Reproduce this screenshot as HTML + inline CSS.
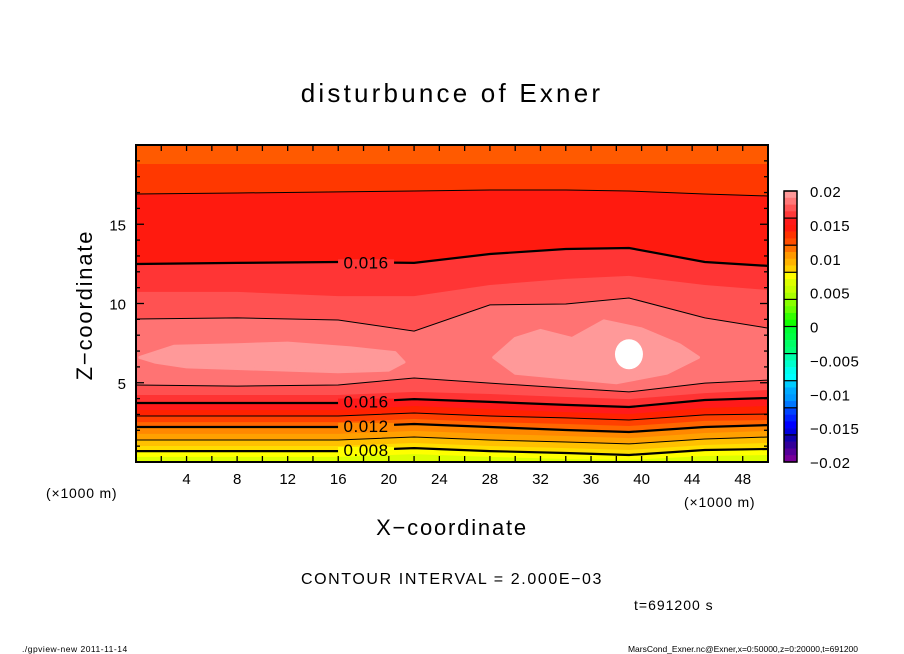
<!DOCTYPE html>
<html><head><meta charset="utf-8"><style>
html,body{margin:0;padding:0;background:#fff;}
svg{display:block;font-family:"Liberation Sans",sans-serif;}
</style></head><body>
<svg id="chart" width="904" height="654" viewBox="0 0 904 654">
<text x="452" y="102" text-anchor="middle" font-size="26" letter-spacing="3.2">disturbunce of Exner</text>
<g id="plot"></g>
<g id="axes"></g>
<g id="cbar"></g>
<text transform="translate(92,305) rotate(-90)" text-anchor="middle" font-size="22" letter-spacing="1.8">Z−coordinate</text>
<text x="452" y="535" text-anchor="middle" font-size="22" letter-spacing="1.8">X−coordinate</text>
<text x="46" y="498" font-size="14" letter-spacing="0.8">(×1000 m)</text>
<text x="684" y="507" font-size="14" letter-spacing="0.8">(×1000 m)</text>
<text x="452" y="584" text-anchor="middle" font-size="16" letter-spacing="1.6">CONTOUR INTERVAL = 2.000E−03</text>
<text x="634" y="610" font-size="14" letter-spacing="1">t=691200 s</text>
<text x="22" y="652" font-size="8.5" letter-spacing="0.5">./gpview-new  2011-11-14</text>
<text x="858" y="652" text-anchor="end" font-size="8.5">MarsCond_Exner.nc@Exner,x=0:50000,z=0:20000,t=691200</text>
</svg>
<script>
const xs = [0, 8, 16, 22, 28, 34, 39, 45, 50];
const boundaryZ = [
 [18.8,18.8,18.8,18.8,18.8,18.8,18.8,18.8,18.8],
 [16.91,16.97,17.04,17.10,17.16,17.16,17.10,16.91,16.78],
 [12.49,12.56,12.62,12.56,13.12,13.44,13.50,12.62,12.37],
 [10.73,10.73,10.47,10.47,11.17,11.55,11.74,11.17,10.85],
 [9.02,9.09,8.96,8.26,9.91,9.97,10.35,9.09,8.45],
 [4.86,4.79,4.86,5.30,4.98,4.67,4.42,4.98,5.17],
 [4.23,4.23,4.23,4.42,4.29,4.10,3.97,4.35,4.54],
 [3.72,3.72,3.72,3.97,3.79,3.60,3.47,3.91,4.04],
 [3.28,3.28,3.28,3.53,3.34,3.15,3.03,3.41,3.53],
 [2.90,2.90,2.90,3.09,2.90,2.78,2.65,2.97,3.03],
 [2.52,2.52,2.52,2.71,2.52,2.40,2.27,2.59,2.65],
 [2.21,2.21,2.21,2.40,2.21,2.02,1.89,2.21,2.33],
 [1.77,1.77,1.77,1.96,1.77,1.64,1.51,1.83,1.96],
 [1.39,1.39,1.39,1.58,1.39,1.26,1.14,1.45,1.58],
 [1.01,1.01,1.01,1.20,1.01,0.88,0.76,1.07,1.20],
 [0.69,0.69,0.69,0.88,0.69,0.57,0.44,0.76,0.82],
 [0.32,0.32,0.32,0.50,0.32,0.19,0.13,0.38,0.44]
];
const topColor = '#FF5A00';
const bandColors = ['#FF3800','#FF1A0F','#FF3535','#FF5252','#FF7373','#FF5050','#FF3333','#FF1A1A','#FF2200','#FF4000','#FF6600','#FF8800','#FFA000','#FFC000','#FFDD00','#FFFF00','#DDFF00'];
const lineStyles = [0,1,2,0,1,1,0,2,0,1,0,2,0,1,0,2,0];
const lineLabels = ['', '', '0.016', '', '', '', '', '0.016', '', '', '', '0.012', '', '', '', '0.008', ''];
const labelKm = 18.2;
const blobLeft = [[0.3,6.6],[3,7.3],[8,7.4],[12,7.5],[17,7.2],[20.5,6.9],[21.2,6.3],[20,5.8],[16,5.7],[12,5.8],[8,5.9],[4,6.0],[1.5,6.3]];
const blobRight = [[28.3,6.6],[30,7.8],[32,8.3],[34.5,7.8],[37,8.9],[40,8.4],[43,7.4],[44.5,6.6],[42,5.6],[38,5.0],[34,5.3],[30,5.6]];
const whiteCenter = [39.0, 6.8];
const xTicks = [4,8,12,16,20,24,28,32,36,40,44,48];
const zTicks = [5,10,15];
const cbarLabels = ['0.02','0.015','0.01','0.005','0','−0.005','−0.01','−0.015','−0.02'];
const cbarColors = ['#FF9999','#FF7777','#FF5555','#FF3838','#FF1A1A','#FF1A0D','#FF3300','#FF4D00','#FF7000','#FF9900','#FFB300','#FFD000','#FFFF00','#DDFF00','#C8FF00','#AAFF00','#88FF00','#66FF00','#33FF00','#11FF00','#00FF33','#00FF44','#00FF66','#00FF77','#00FFAA','#00FFCC','#00FFEE','#00FFFF','#00CCFF','#00AAFF','#0099FF','#0077FF','#0044FF','#0022FF','#0000FF','#0000DD','#1100AA','#330099','#550099','#770099'];

const NS='http://www.w3.org/2000/svg';
const X0=136,X1=768,Y0=145,Y1=462;
const sx = km => X0 + (km/50)*(X1-X0);
const sz = z => Y1 - (z/20)*(Y1-Y0);
function mk(tag, attrs, parent){const e=document.createElementNS(NS,tag);for(const k in attrs)e.setAttribute(k,attrs[k]);parent.appendChild(e);return e;}
const plot=document.getElementById('plot');
const axes=document.getElementById('axes');
const cbar=document.getElementById('cbar');
function linePts(arr){return xs.map((x,i)=>sx(x).toFixed(1)+','+sz(arr[i]).toFixed(1));}
function zAt(arr,km){for(let i=0;i<xs.length-1;i++){if(km>=xs[i]&&km<=xs[i+1]){const f=(km-xs[i])/(xs[i+1]-xs[i]);return arr[i]+f*(arr[i+1]-arr[i]);}}return arr[arr.length-1];}

let bg=mk('rect',{x:X0,y:Y0,width:X1-X0,height:Y1-Y0,fill:topColor},plot);


boundaryZ.forEach((arr,i)=>{
  const pts=linePts(arr).concat([sx(50)+','+Y1, sx(0)+','+Y1]);
  const p=mk('polygon',{points:pts.join(' '),fill:bandColors[i]},plot);
  
  
});
[blobLeft,blobRight].forEach((b,i)=>{
  const p=mk('polygon',{points:b.map(q=>sx(q[0]).toFixed(1)+','+sz(q[1]).toFixed(1)).join(' '),fill:'#FF9999','stroke':'#FF9999','stroke-linejoin':'round','stroke-width':3},plot);
  
  
});
const wc=mk('ellipse',{cx:sx(whiteCenter[0]),cy:sz(whiteCenter[1]),rx:14,ry:15,fill:'#fff'},plot);


boundaryZ.forEach((arr,i)=>{
  if(!lineStyles[i])return;
  const l=mk('polyline',{points:linePts(arr).join(' '),fill:'none',stroke:'#000','stroke-width':lineStyles[i]==2?2.2:1},plot);
  
  
  if(lineLabels[i]){
    const cy=sz(zAt(arr,labelKm));
    const gap=mk('rect',{x:sx(labelKm)-28,y:cy-3,width:56,height:6,fill:bandColors[i]},plot);
    
    
    const t=mk('text',{x:sx(labelKm),y:cy+6,'text-anchor':'middle','font-size':17,fill:'#000','letter-spacing':'0.5'},plot);
    t.textContent=lineLabels[i];
    
    
  }
});
const fr=mk('rect',{x:X0,y:Y0,width:X1-X0,height:Y1-Y0,fill:'none',stroke:'#000','stroke-width':2},axes);


for(let k=2;k<50;k+=2){
  mk('line',{x1:sx(k),x2:sx(k),y1:Y1,y2:Y1-6,stroke:'#000','stroke-width':1.3},axes);
  mk('line',{x1:sx(k),x2:sx(k),y1:Y0,y2:Y0+6,stroke:'#000','stroke-width':1.3},axes);
}
for(let z=1;z<20;z++){
  const L=z%5==0?8:4;
  mk('line',{x1:X0,x2:X0+L,y1:sz(z),y2:sz(z),stroke:'#000','stroke-width':1.3},axes);
  mk('line',{x1:X1,x2:X1-L,y1:sz(z),y2:sz(z),stroke:'#000','stroke-width':1.3},axes);
}
xTicks.forEach(v=>{
  const t=mk('text',{x:sx(v),y:484,'text-anchor':'middle','font-size':15},axes);
  t.textContent=v;
  
  
});
zTicks.forEach(v=>{
  const t=mk('text',{x:126,y:sz(v)+6,'text-anchor':'end','font-size':15},axes);
  t.textContent=v;
  
  
});
const CB0=191,CB1=462,CX=784,CW=13;
const ch=(CB1-CB0)/cbarColors.length;
cbarColors.forEach((c,i)=>{
  const r=mk('rect',{x:CX,y:CB0+i*ch,width:CW,height:ch+0.3,fill:c},cbar);
  
  
});
for(let i=0;i<=cbarColors.length;i+=4){
  mk('line',{x1:CX,x2:CX+CW,y1:CB0+i*ch,y2:CB0+i*ch,stroke:'#000','stroke-width':1.2},cbar);
}
mk('rect',{x:CX,y:CB0,width:CW,height:CB1-CB0,fill:'none',stroke:'#000','stroke-width':1.5},cbar);
cbarLabels.forEach((s,i)=>{
  const t=mk('text',{x:810,y:CB0+i*(CB1-CB0)/(cbarLabels.length-1)+6,'font-size':15,'letter-spacing':'0.5'},cbar);
  t.textContent=s;
  
  
});
</script>
</body></html>
